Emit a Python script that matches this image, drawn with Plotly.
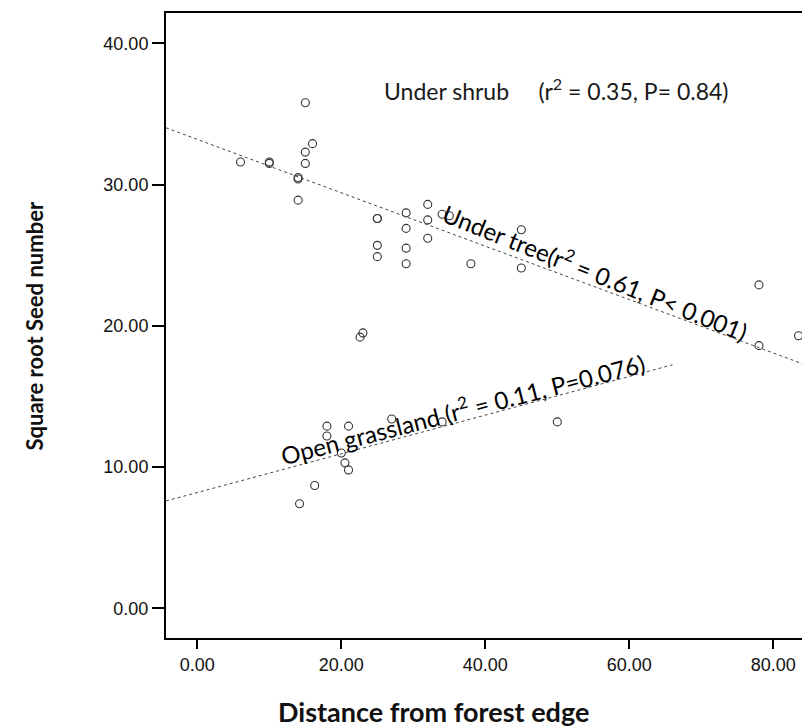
import plotly.graph_objects as go

# ---- data ----
tree_x = [6, 10, 10, 14, 14, 14, 15, 15, 16, 25, 25, 25, 25, 29, 29, 29, 29,
          32, 32, 32, 34, 35, 38, 45, 45, 78, 78, 83.5]
tree_y = [31.6, 31.5, 31.6, 30.4, 30.5, 28.9, 32.3, 31.5, 32.9, 27.6, 27.6, 25.7, 24.9,
          28.0, 26.9, 25.5, 24.4, 28.6, 27.5, 26.2, 27.9, 27.8, 24.4, 26.8, 24.1,
          22.9, 18.6, 19.3]
shrub_x = [15, 22.6, 23.0]
shrub_y = [35.8, 19.2, 19.5]
grass_x = [14.2, 16.3, 18, 18, 20, 20.5, 21, 21, 27, 34, 50]
grass_y = [7.4, 8.7, 12.9, 12.2, 11.0, 10.3, 12.9, 9.8, 13.4, 13.2, 13.2]

# fitted regression lines: (intercept, slope, x_start, x_end)
tree_fit = (33.2, -0.189, -4.35, 84.0)
grass_fit = (8.2, 0.137, -4.35, 66.0)

x_ticks = [0, 20, 40, 60, 80]
y_ticks = [0, 10, 20, 30, 40]
x_range = [-4.35, 83.98]
y_range = [-2.1, 42.15]

fig = go.Figure()

marker = dict(symbol="circle-open", size=8, color="#333333", line=dict(width=1.1))
for xs, ys in [(tree_x, tree_y), (shrub_x, shrub_y), (grass_x, grass_y)]:
    fig.add_trace(go.Scatter(x=xs, y=ys, mode="markers", marker=marker,
                             showlegend=False, cliponaxis=True))

for b0, b1, xa, xb in [tree_fit, grass_fit]:
    fig.add_trace(go.Scatter(x=[xa, xb], y=[b0 + b1 * xa, b0 + b1 * xb], mode="lines",
                             line=dict(color="#444444", width=1, dash="dot"),
                             showlegend=False))

ann_font = dict(family="Lato", size=24, color="#000000")
fig.add_annotation(x=55.3, y=23.9, xref="x", yref="y", showarrow=False,
                   text="Under tree(r<sup>2</sup> = 0.61, P< 0.001)", textangle=21.8,
                   font=ann_font)
fig.add_annotation(x=36.8, y=14.2, xref="x", yref="y", showarrow=False,
                   text="Open grassland (r<sup>2</sup> = 0.11, P=0.076)", textangle=-14.5,
                   font=ann_font)
fig.add_annotation(x=49.9, y=36.7, xref="x", yref="y", showarrow=False,
                   text="Under shrub\u00a0\u00a0\u00a0\u00a0 (r<sup>2</sup> = 0.35, P= 0.84)",
                   font=dict(family="Lato", size=23, color="#1a1a1a"))

tick_font = dict(family="Liberation Sans", size=18, color="#111111")
fig.update_xaxes(range=x_range, tickvals=x_ticks,
                 ticktext=[f"{v:.2f}" for v in x_ticks],
                 showgrid=False, zeroline=False, showline=True, linecolor="black",
                 linewidth=2, mirror=True, ticks="outside", ticklen=9, tickwidth=1.5,
                 tickcolor="black", tickfont=tick_font)
fig.update_yaxes(range=y_range, tickvals=y_ticks,
                 ticktext=[f"{v:.2f}" for v in y_ticks],
                 showgrid=False, zeroline=False, showline=True, linecolor="black",
                 linewidth=2, mirror=False, ticks="outside", ticklen=12, tickwidth=2,
                 tickcolor="black", tickfont=tick_font)

fig.add_annotation(x=0.42, y=-0.118, xref="paper", yref="paper", showarrow=False,
                   text="<b>Distance from forest edge</b>",
                   font=dict(family="Lato", size=27, color="#111111"),
                   xanchor="center", yanchor="middle")
fig.add_annotation(x=-0.206, y=0.5, xref="paper", yref="paper", showarrow=False,
                   text="<b>Square root Seed number</b>",
                   font=dict(family="Lato", size=22, color="#111111"), textangle=-90,
                   xanchor="center", yanchor="middle")

fig.update_layout(width=802, height=728, plot_bgcolor="white", paper_bgcolor="white",
                  margin=dict(l=166, r=0, t=13, b=90))

fig.write_html("out.html", config={"displayModeBar": False},
               post_script="document.body.style.margin='0';"
                           "document.body.style.overflow='hidden';")
